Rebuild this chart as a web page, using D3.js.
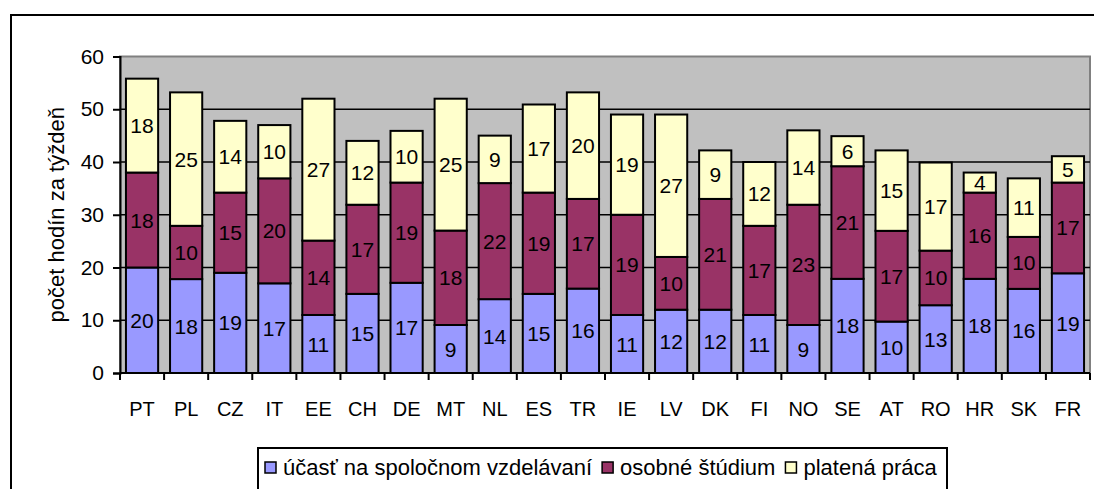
<!DOCTYPE html>
<html lang="sk">

<head>
    <meta charset="UTF-8" />
    <script src="https://d3js.org/d3.v7.min.js"></script>
    <title>Počet hodín za týždeň</title>
    <style>
        body {
            margin: 0;
            background: white;
        }

        text {
            font-family: "Liberation Sans", Arial, sans-serif;
            fill: #000;
        }

        .grid line {
            stroke: #000;
            stroke-width: 1.5;
        }

        .axis path,
        .axis line {
            stroke: #000;
            stroke-width: 2;
        }
    </style>
</head>

<body>
    <svg id="chart" width="1094" height="489"></svg>
    <script>
        // data (hours per week)
        const countries = ["PT", "PL", "CZ", "IT", "EE", "CH", "DE", "MT", "NL", "ES", "TR",
            "IE", "LV", "DK", "FI", "NO", "SE", "AT", "RO", "HR", "SK", "FR"];
        const seriesNames = ["účasť na spoločnom vzdelávaní", "osobné štúdium", "platená práca"];
        const classes = [20, 17.8, 19, 17, 11, 15, 17.1, 9.1, 14, 15, 16,
            11, 12, 12, 11, 9.1, 17.85, 9.75, 12.85, 17.85, 15.95, 18.9];
        const study = [18, 10.1, 15.2, 19.9, 14.1, 16.9, 19, 17.9, 22, 19.2, 17,
            19, 10, 21, 16.9, 22.8, 21.35, 17.2, 10.35, 16.35, 9.85, 17.2];
        const work = [17.8, 25.3, 13.6, 10.1, 26.9, 12.1, 9.8, 25, 9, 16.7, 20.2,
            19, 27, 9.2, 12.1, 14.1, 5.7, 15.25, 16.7, 3.8, 11.1, 5];
        const yTicks = [0, 10, 20, 30, 40, 50, 60];
        const colors = ["#9999FF", "#993366", "#FFFFCC"];

        const svg = d3.select("#chart");
        const font = "'Liberation Sans', Arial, sans-serif";

        // outer chart border (runs off the right and bottom of the picture)
        svg.append("rect")
            .attr("x", 11).attr("y", 15)
            .attr("width", 1100).attr("height", 500)
            .attr("fill", "white")
            .attr("stroke", "#000")
            .attr("stroke-width", 2);

        const plot = { left: 120, right: 1090, top: 56.5, bottom: 373 };

        const x = d3.scaleBand()
            .domain(countries)
            .range([plot.left, plot.right])
            .paddingInner(0.27)
            .paddingOuter(0.135);

        const y = d3.scaleLinear()
            .domain([0, 60])
            .range([plot.bottom, plot.top]);

        // plot background
        svg.append("rect")
            .attr("x", plot.left).attr("y", plot.top)
            .attr("width", plot.right - plot.left)
            .attr("height", plot.bottom - plot.top)
            .attr("fill", "#C0C0C0")
            .attr("stroke", "#808080")
            .attr("stroke-width", 2);

        // gridlines
        svg.append("g")
            .attr("class", "grid")
            .selectAll("line")
            .data(yTicks.filter(t => t > 0 && t < 60))
            .join("line")
            .attr("x1", plot.left).attr("x2", plot.right)
            .attr("y1", d => y(d)).attr("y2", d => y(d));

        // stack the three series
        const rows = countries.map((c, i) => ({ country: c, s0: classes[i], s1: study[i], s2: work[i] }));
        const stack = d3.stack().keys(["s0", "s1", "s2"])(rows);

        const layers = svg.append("g")
            .selectAll("g")
            .data(stack)
            .join("g")
            .attr("fill", (d, i) => colors[i]);

        layers.selectAll("rect")
            .data(d => d)
            .join("rect")
            .attr("x", d => x(d.data.country))
            .attr("width", x.bandwidth())
            .attr("y", d => y(d[1]))
            .attr("height", d => y(d[0]) - y(d[1]))
            .attr("stroke", "#000")
            .attr("stroke-width", 2);

        // value labels in the middle of each segment
        layers.selectAll("text")
            .data(d => d)
            .join("text")
            .attr("x", d => x(d.data.country) + x.bandwidth() / 2)
            .attr("y", d => y((d[0] + d[1]) / 2))
            .attr("dy", "0.36em")
            .attr("text-anchor", "middle")
            .style("font-size", "21px")
            .text(d => Math.round(d[1] - d[0]));

        // y axis
        const yAxis = svg.append("g")
            .attr("class", "axis")
            .attr("transform", `translate(${plot.left},0)`)
            .call(d3.axisLeft(y).tickValues(yTicks).tickSize(7).tickPadding(9));
        yAxis.selectAll("text")
            .style("font-size", "21px")
            .style("font-family", font);

        // x axis, ticks sit between the categories
        const xAxis = svg.append("g")
            .attr("class", "axis")
            .attr("transform", `translate(0,${plot.bottom})`);
        xAxis.append("line")
            .attr("x1", plot.left).attr("x2", plot.right)
            .attr("y1", 0).attr("y2", 0);
        const edges = d3.range(countries.length + 1).map(i => plot.left + i * (plot.right - plot.left) / countries.length);
        xAxis.selectAll("line.tick")
            .data(edges)
            .join("line")
            .attr("class", "tick")
            .attr("x1", d => d).attr("x2", d => d)
            .attr("y1", 0).attr("y2", 7);
        xAxis.selectAll("text")
            .data(countries)
            .join("text")
            .attr("x", d => x(d) + x.bandwidth() / 2)
            .attr("y", 43)
            .attr("text-anchor", "middle")
            .style("font-size", "20px")
            .text(d => d);

        // y axis title
        svg.append("text")
            .attr("transform", `translate(64,${(plot.top + plot.bottom) / 2}) rotate(-90)`)
            .attr("text-anchor", "middle")
            .style("font-size", "22px")
            .text("počet hodín za týždeň");

        // legend
        const legend = svg.append("g");
        legend.append("rect")
            .attr("x", 258).attr("y", 448)
            .attr("width", 689).attr("height", 60)
            .attr("fill", "white")
            .attr("stroke", "#000")
            .attr("stroke-width", 2);

        let lx = 265;
        seriesNames.forEach((name, i) => {
            legend.append("rect")
                .attr("x", lx).attr("y", 462)
                .attr("width", 11).attr("height", 11)
                .attr("fill", colors[i])
                .attr("stroke", "#000")
                .attr("stroke-width", 1.5);
            const t = legend.append("text")
                .attr("x", lx + 18).attr("y", 475)
                .style("font-size", "22px")
                .text(name);
            lx += 18 + t.node().getComputedTextLength() + 10;
        });
    </script>
</body>

</html>
